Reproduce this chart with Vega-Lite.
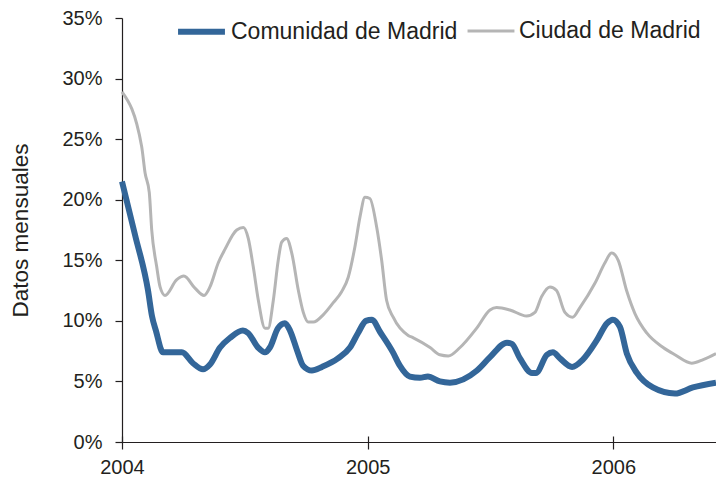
{
  "$schema": "https://vega.github.io/schema/vega-lite/v6.json",
  "width": 594,
  "height": 424,
  "autosize": {"type": "none"},
  "padding": {"left": 122, "top": 18, "right": 0, "bottom": 42},
  "background": "white",
  "config": {
    "view": {"stroke": null},
    "font": "Liberation Sans",
    "axis": {"grid": false, "domainColor": "#231F20", "tickColor": "#231F20", "labelColor": "#231F20", "titleColor": "#231F20", "labelFont": "Liberation Sans", "titleFont": "Liberation Sans", "labelFontSize": 20, "titleFontSize": 22.5, "titleFontWeight": "normal", "domainWidth": 1.2, "tickWidth": 1.2}
  },
  "data": {"values": [
    {"series": "Comunidad de Madrid", "t": 2004.000, "v": 21.5},
    {"series": "Comunidad de Madrid", "t": 2004.053, "v": 17.1},
    {"series": "Comunidad de Madrid", "t": 2004.106, "v": 12.5},
    {"series": "Comunidad de Madrid", "t": 2004.122, "v": 10.4},
    {"series": "Comunidad de Madrid", "t": 2004.138, "v": 9.2},
    {"series": "Comunidad de Madrid", "t": 2004.167, "v": 7.4},
    {"series": "Comunidad de Madrid", "t": 2004.244, "v": 7.4},
    {"series": "Comunidad de Madrid", "t": 2004.289, "v": 6.5},
    {"series": "Comunidad de Madrid", "t": 2004.330, "v": 6.0},
    {"series": "Comunidad de Madrid", "t": 2004.358, "v": 6.4},
    {"series": "Comunidad de Madrid", "t": 2004.399, "v": 7.8},
    {"series": "Comunidad de Madrid", "t": 2004.440, "v": 8.6},
    {"series": "Comunidad de Madrid", "t": 2004.492, "v": 9.2},
    {"series": "Comunidad de Madrid", "t": 2004.513, "v": 9.0},
    {"series": "Comunidad de Madrid", "t": 2004.554, "v": 7.8},
    {"series": "Comunidad de Madrid", "t": 2004.582, "v": 7.4},
    {"series": "Comunidad de Madrid", "t": 2004.602, "v": 7.8},
    {"series": "Comunidad de Madrid", "t": 2004.635, "v": 9.4},
    {"series": "Comunidad de Madrid", "t": 2004.663, "v": 9.8},
    {"series": "Comunidad de Madrid", "t": 2004.684, "v": 9.2},
    {"series": "Comunidad de Madrid", "t": 2004.712, "v": 7.6},
    {"series": "Comunidad de Madrid", "t": 2004.737, "v": 6.3},
    {"series": "Comunidad de Madrid", "t": 2004.773, "v": 5.9},
    {"series": "Comunidad de Madrid", "t": 2004.814, "v": 6.2},
    {"series": "Comunidad de Madrid", "t": 2004.879, "v": 6.9},
    {"series": "Comunidad de Madrid", "t": 2004.928, "v": 7.8},
    {"series": "Comunidad de Madrid", "t": 2004.961, "v": 9.0},
    {"series": "Comunidad de Madrid", "t": 2004.993, "v": 10.0},
    {"series": "Comunidad de Madrid", "t": 2005.017, "v": 10.1},
    {"series": "Comunidad de Madrid", "t": 2005.050, "v": 9.1},
    {"series": "Comunidad de Madrid", "t": 2005.103, "v": 7.4},
    {"series": "Comunidad de Madrid", "t": 2005.131, "v": 6.3},
    {"series": "Comunidad de Madrid", "t": 2005.172, "v": 5.4},
    {"series": "Comunidad de Madrid", "t": 2005.213, "v": 5.3},
    {"series": "Comunidad de Madrid", "t": 2005.245, "v": 5.4},
    {"series": "Comunidad de Madrid", "t": 2005.294, "v": 5.0},
    {"series": "Comunidad de Madrid", "t": 2005.335, "v": 4.9},
    {"series": "Comunidad de Madrid", "t": 2005.445, "v": 5.9},
    {"series": "Comunidad de Madrid", "t": 2005.498, "v": 7.0},
    {"series": "Comunidad de Madrid", "t": 2005.567, "v": 8.2},
    {"series": "Comunidad de Madrid", "t": 2005.587, "v": 8.1},
    {"series": "Comunidad de Madrid", "t": 2005.620, "v": 6.9},
    {"series": "Comunidad de Madrid", "t": 2005.669, "v": 5.7},
    {"series": "Comunidad de Madrid", "t": 2005.685, "v": 5.7},
    {"series": "Comunidad de Madrid", "t": 2005.730, "v": 7.2},
    {"series": "Comunidad de Madrid", "t": 2005.754, "v": 7.4},
    {"series": "Comunidad de Madrid", "t": 2005.783, "v": 6.9},
    {"series": "Comunidad de Madrid", "t": 2005.832, "v": 6.2},
    {"series": "Comunidad de Madrid", "t": 2005.876, "v": 6.8},
    {"series": "Comunidad de Madrid", "t": 2005.933, "v": 8.4},
    {"series": "Comunidad de Madrid", "t": 2005.974, "v": 9.8},
    {"series": "Comunidad de Madrid", "t": 2005.998, "v": 10.1},
    {"series": "Comunidad de Madrid", "t": 2006.027, "v": 9.5},
    {"series": "Comunidad de Madrid", "t": 2006.055, "v": 7.3},
    {"series": "Comunidad de Madrid", "t": 2006.096, "v": 5.7},
    {"series": "Comunidad de Madrid", "t": 2006.161, "v": 4.5},
    {"series": "Comunidad de Madrid", "t": 2006.251, "v": 4.0},
    {"series": "Comunidad de Madrid", "t": 2006.324, "v": 4.5},
    {"series": "Comunidad de Madrid", "t": 2006.418, "v": 4.9},
    {"series": "Ciudad de Madrid", "t": 2004.000, "v": 28.9},
    {"series": "Ciudad de Madrid", "t": 2004.080, "v": 24.4},
    {"series": "Ciudad de Madrid", "t": 2004.094, "v": 22.2},
    {"series": "Ciudad de Madrid", "t": 2004.111, "v": 20.6},
    {"series": "Ciudad de Madrid", "t": 2004.121, "v": 17.5},
    {"series": "Ciudad de Madrid", "t": 2004.141, "v": 14.5},
    {"series": "Ciudad de Madrid", "t": 2004.155, "v": 12.8},
    {"series": "Ciudad de Madrid", "t": 2004.175, "v": 12.1},
    {"series": "Ciudad de Madrid", "t": 2004.223, "v": 13.4},
    {"series": "Ciudad de Madrid", "t": 2004.252, "v": 13.7},
    {"series": "Ciudad de Madrid", "t": 2004.297, "v": 12.7},
    {"series": "Ciudad de Madrid", "t": 2004.334, "v": 12.1},
    {"series": "Ciudad de Madrid", "t": 2004.358, "v": 12.8},
    {"series": "Ciudad de Madrid", "t": 2004.392, "v": 14.8},
    {"series": "Ciudad de Madrid", "t": 2004.419, "v": 15.9},
    {"series": "Ciudad de Madrid", "t": 2004.467, "v": 17.5},
    {"series": "Ciudad de Madrid", "t": 2004.494, "v": 17.7},
    {"series": "Ciudad de Madrid", "t": 2004.514, "v": 16.8},
    {"series": "Ciudad de Madrid", "t": 2004.534, "v": 14.5},
    {"series": "Ciudad de Madrid", "t": 2004.555, "v": 11.7},
    {"series": "Ciudad de Madrid", "t": 2004.582, "v": 9.4},
    {"series": "Ciudad de Madrid", "t": 2004.595, "v": 9.4},
    {"series": "Ciudad de Madrid", "t": 2004.616, "v": 11.7},
    {"series": "Ciudad de Madrid", "t": 2004.636, "v": 15.0},
    {"series": "Ciudad de Madrid", "t": 2004.650, "v": 16.5},
    {"series": "Ciudad de Madrid", "t": 2004.670, "v": 16.8},
    {"series": "Ciudad de Madrid", "t": 2004.691, "v": 15.6},
    {"series": "Ciudad de Madrid", "t": 2004.718, "v": 12.5},
    {"series": "Ciudad de Madrid", "t": 2004.738, "v": 10.7},
    {"series": "Ciudad de Madrid", "t": 2004.758, "v": 9.9},
    {"series": "Ciudad de Madrid", "t": 2004.779, "v": 9.9},
    {"series": "Ciudad de Madrid", "t": 2004.819, "v": 10.5},
    {"series": "Ciudad de Madrid", "t": 2004.860, "v": 11.5},
    {"series": "Ciudad de Madrid", "t": 2004.894, "v": 12.4},
    {"series": "Ciudad de Madrid", "t": 2004.921, "v": 13.6},
    {"series": "Ciudad de Madrid", "t": 2004.948, "v": 16.1},
    {"series": "Ciudad de Madrid", "t": 2004.969, "v": 18.6},
    {"series": "Ciudad de Madrid", "t": 2004.989, "v": 20.2},
    {"series": "Ciudad de Madrid", "t": 2005.009, "v": 20.1},
    {"series": "Ciudad de Madrid", "t": 2005.037, "v": 17.7},
    {"series": "Ciudad de Madrid", "t": 2005.057, "v": 15.0},
    {"series": "Ciudad de Madrid", "t": 2005.077, "v": 11.7},
    {"series": "Ciudad de Madrid", "t": 2005.104, "v": 10.3},
    {"series": "Ciudad de Madrid", "t": 2005.165, "v": 8.8},
    {"series": "Ciudad de Madrid", "t": 2005.186, "v": 8.6},
    {"series": "Ciudad de Madrid", "t": 2005.254, "v": 7.8},
    {"series": "Ciudad de Madrid", "t": 2005.294, "v": 7.2},
    {"series": "Ciudad de Madrid", "t": 2005.328, "v": 7.1},
    {"series": "Ciudad de Madrid", "t": 2005.376, "v": 7.8},
    {"series": "Ciudad de Madrid", "t": 2005.444, "v": 9.4},
    {"series": "Ciudad de Madrid", "t": 2005.498, "v": 10.9},
    {"series": "Ciudad de Madrid", "t": 2005.525, "v": 11.1},
    {"series": "Ciudad de Madrid", "t": 2005.579, "v": 10.9},
    {"series": "Ciudad de Madrid", "t": 2005.647, "v": 10.4},
    {"series": "Ciudad de Madrid", "t": 2005.681, "v": 10.7},
    {"series": "Ciudad de Madrid", "t": 2005.708, "v": 12.0},
    {"series": "Ciudad de Madrid", "t": 2005.742, "v": 12.8},
    {"series": "Ciudad de Madrid", "t": 2005.769, "v": 12.5},
    {"series": "Ciudad de Madrid", "t": 2005.803, "v": 10.7},
    {"series": "Ciudad de Madrid", "t": 2005.834, "v": 10.3},
    {"series": "Ciudad de Madrid", "t": 2005.864, "v": 11.1},
    {"series": "Ciudad de Madrid", "t": 2005.925, "v": 13.1},
    {"series": "Ciudad de Madrid", "t": 2005.966, "v": 14.8},
    {"series": "Ciudad de Madrid", "t": 2005.993, "v": 15.6},
    {"series": "Ciudad de Madrid", "t": 2006.020, "v": 15.0},
    {"series": "Ciudad de Madrid", "t": 2006.054, "v": 12.5},
    {"series": "Ciudad de Madrid", "t": 2006.088, "v": 10.6},
    {"series": "Ciudad de Madrid", "t": 2006.136, "v": 9.0},
    {"series": "Ciudad de Madrid", "t": 2006.203, "v": 7.8},
    {"series": "Ciudad de Madrid", "t": 2006.251, "v": 7.2},
    {"series": "Ciudad de Madrid", "t": 2006.319, "v": 6.5},
    {"series": "Ciudad de Madrid", "t": 2006.366, "v": 6.8},
    {"series": "Ciudad de Madrid", "t": 2006.418, "v": 7.3}
  ]},
  "resolve": {"axis": {"x": "independent"}},
  "layer": [
    {
      "mark": {"type": "line", "interpolate": "monotone", "strokeCap": "butt", "strokeJoin": "round"},
      "encoding": {
        "x": {"field": "t", "type": "quantitative", "scale": {"domain": [2004, 2006.418], "nice": false, "zero": false},
          "axis": {"values": [2004, 2005, 2006], "format": "d", "title": null, "tickSize": 7, "labelPadding": 8, "labelFlush": false}},
        "y": {"field": "v", "type": "quantitative", "scale": {"domain": [0, 35], "nice": false},
          "axis": {"values": [0, 5, 10, 15, 20, 25, 30, 35], "labelExpr": "datum.value + '%'", "title": "Datos mensuales", "tickSize": 7, "labelPadding": 13, "titlePadding": 29}},
        "color": {"field": "series", "type": "nominal", "scale": {"domain": ["Comunidad de Madrid", "Ciudad de Madrid"], "range": ["#336699", "#B5B5B5"]},
          "legend": {"title": null, "orient": "none", "legendX": 53, "legendY": -13, "direction": "horizontal", "symbolType": "stroke", "symbolSize": 2200, "labelFontSize": 23, "labelFont": "Liberation Sans", "labelColor": "#231F20", "labelLimit": 400, "labelOffset": 3, "columnPadding": 3, "symbolStrokeWidth": 6}},
        "strokeWidth": {"field": "series", "type": "nominal", "scale": {"domain": ["Comunidad de Madrid", "Ciudad de Madrid"], "range": [6, 3]}, "legend": null},
        "order": {"field": "t", "type": "quantitative"}
      }
    },
    {
      "mark": {"type": "line", "opacity": 0},
      "encoding": {
        "x": {"field": "t", "type": "quantitative", "scale": {"domain": [2004, 2006.418], "nice": false, "zero": false},
          "axis": {"values": [2004, 2005, 2006], "orient": "bottom", "offset": -6, "tickSize": 6, "domain": false, "labels": false, "title": null}},
        "y": {"field": "v", "type": "quantitative"}
      }
    }
  ]
}
